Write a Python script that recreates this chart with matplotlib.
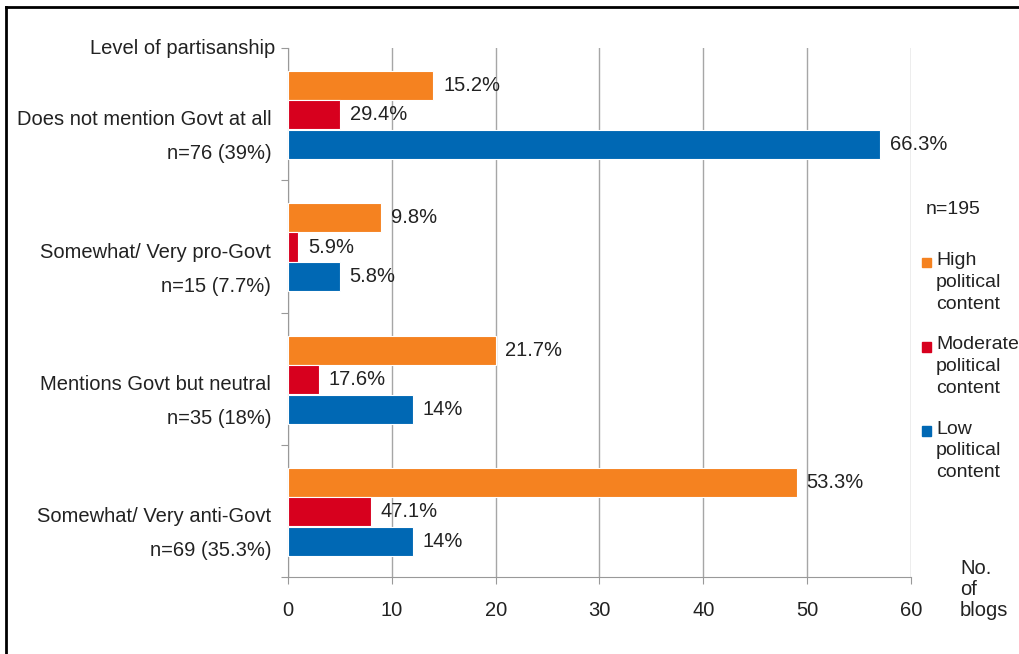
import matplotlib.pyplot as plt
from matplotlib.lines import Line2D
from matplotlib.patches import Rectangle

plt.rcParams["font.family"] = ["Liberation Sans", "DejaVu Sans"]

categories = [
    "Does not mention Govt at all\nn=76 (39%)",
    "Somewhat/ Very pro-Govt\nn=15 (7.7%)",
    "Mentions Govt but neutral\nn=35 (18%)",
    "Somewhat/ Very anti-Govt\nn=69 (35.3%)",
]
high = [14, 9, 20, 49]
moderate = [5, 1, 3, 8]
low = [57, 5, 12, 12]
high_pct = ["15.2%", "9.8%", "21.7%", "53.3%"]
moderate_pct = ["29.4%", "5.9%", "17.6%", "47.1%"]
low_pct = ["66.3%", "5.8%", "14%", "14%"]

series = [
    ("High\npolitical\ncontent", high, high_pct, "#F58220", -0.215),
    ("Moderate\npolitical\ncontent", moderate, moderate_pct, "#D7001E", 0.005),
    ("Low\npolitical\ncontent", low, low_pct, "#0068B4", 0.23),
]

fig = plt.figure(figsize=(10.19, 6.54), dpi=100)
ax = fig.add_axes([0.2826, 0.1177, 0.6114, 0.8089])

ypos = list(range(len(categories)))
for name, vals, pcts, color, off in series:
    ys = [y + off for y in ypos]
    ax.barh(ys, vals, height=0.22, color=color, edgecolor="white", linewidth=0.8, zorder=3)
    for y, v, p in zip(ys, vals, pcts):
        ax.annotate(p, (v, y), xytext=(7, 0), textcoords="offset points",
                    va="center", ha="left", fontsize=14.5, color="#222222")

ax.set_xlim(0, 60)
ax.set_ylim(len(categories) - 0.5, -0.5)
ax.set_xticks(range(0, 61, 10))
ax.tick_params(axis="x", labelsize=14.5, colors="#999999", labelcolor="#222222", length=5, pad=12)
ax.grid(axis="x", color="#A6A6A6", linewidth=1, zorder=0)

ax.set_yticks([y - 0.5 for y in range(len(categories) + 1)])
ax.set_yticklabels([])
ax.tick_params(axis="y", which="major", colors="#999999", length=5)
ax.set_yticks([y + 0.1 for y in ypos], minor=True)
ax.set_yticklabels(categories, minor=True, fontsize=14.5, linespacing=2.0, color="#222222")
ax.tick_params(axis="y", which="minor", length=0, pad=12)

for side in ["top", "right"]:
    ax.spines[side].set_visible(False)
for side in ["left", "bottom"]:
    ax.spines[side].set_color("#999999")

ax.text(-0.02, 1.0, "Level of partisanship", transform=ax.transAxes,
        ha="right", va="center", fontsize=14.5, color="#222222")

# legend drawn manually to mimic the spreadsheet layout
fig.text(0.908, 0.68, "n=195", fontsize=14, color="#222222", va="center")
for i, (name, vals, pcts, color, off) in enumerate(series):
    ytop = 0.600 - i * 0.1285
    fig.add_artist(Rectangle((0.9045, ytop - 0.009), 0.0095, 0.015,
                             transform=fig.transFigure, color=color))
    fig.text(0.9185, ytop + 0.014, name, fontsize=14, color="#222222",
             va="top", ha="left", linespacing=1.36)

fig.text(0.942, 0.146, "No.\nof\nblogs", fontsize=14.5, color="#222222",
         va="top", ha="left", linespacing=1.15)

# outer frame like the original screenshot
fig.add_artist(Line2D([0.006, 1.0], [0.989, 0.989], transform=fig.transFigure,
                      color="black", linewidth=2))
fig.add_artist(Line2D([0.006, 0.006], [0.0, 0.989], transform=fig.transFigure,
                      color="black", linewidth=2))

fig.savefig("out.png", dpi=100)
